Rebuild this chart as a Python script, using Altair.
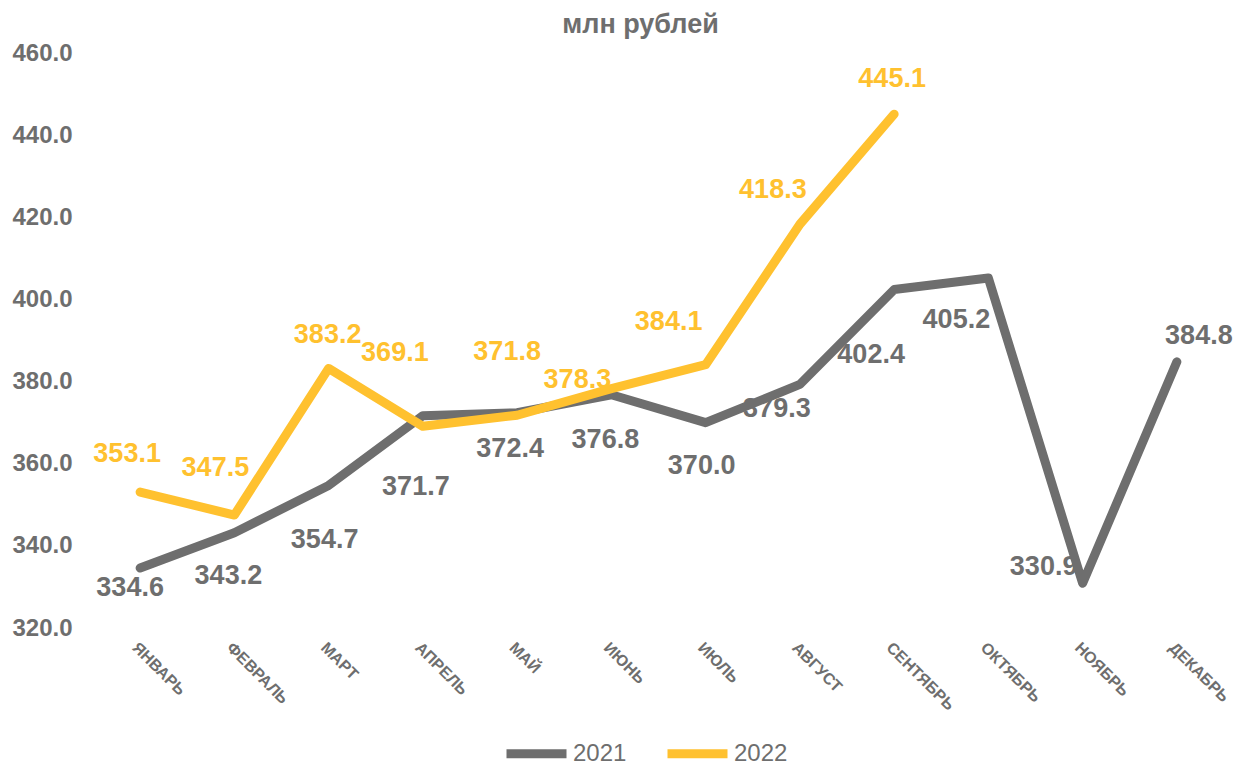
import altair as alt
import pandas as pd

months = ["ЯНВАРЬ", "ФЕВРАЛЬ", "МАРТ", "АПРЕЛЬ", "МАЙ", "ИЮНЬ",
          "ИЮЛЬ", "АВГУСТ", "СЕНТЯБРЬ", "ОКТЯБРЬ", "НОЯБРЬ", "ДЕКАБРЬ"]
values_2021 = [334.6, 343.2, 354.7, 371.7, 372.4, 376.8, 370.0, 379.3, 402.4, 405.2, 330.9, 384.8]
values_2022 = [353.1, 347.5, 383.2, 369.1, 371.8, 378.3, 384.1, 418.3, 445.1]
series_names = ["2021", "2022"]

GRAY = "#6E6E6E"
YELLOW = "#FFC12F"
FONT = "Liberation Sans"

rows = []
for m, v in zip(months, values_2021):
    rows.append({"month": m, "value": v, "series": "2021"})
for m, v in zip(months, values_2022):
    rows.append({"month": m, "value": v, "series": "2022"})
df = pd.DataFrame(rows)

x_enc = alt.X("month:N", sort=months, scale=alt.Scale(paddingInner=0, paddingOuter=0),
              axis=alt.Axis(title=None, labelAngle=45, labelFontSize=16, labelFontWeight="bold",
                            labelColor=GRAY, labelFont=FONT, ticks=False, domain=False,
                            labelPadding=11, labelAlign="left", labelBaseline="top"))
y_enc = alt.Y("value:Q", scale=alt.Scale(domain=[320, 460], nice=False, zero=False),
              axis=alt.Axis(title=None, values=list(range(320, 461, 20)), format=".1f",
                            labelFontSize=24, labelFontWeight="bold", labelColor=GRAY,
                            labelFont=FONT, ticks=False, domain=False, grid=False,
                            labelPadding=21))

base = alt.Chart(df)

lines = base.mark_line(strokeWidth=9, strokeCap="round", strokeJoin="round").encode(
    x=x_enc, y=y_enc,
    color=alt.Color("series:N", scale=alt.Scale(domain=series_names, range=[GRAY, YELLOW]),
                    legend=alt.Legend(title=None, orient="none", direction="horizontal",
                                      legendX=409, legendY=666, symbolType="stroke",
                                      symbolSize=3600, symbolStrokeWidth=9,
                                      labelFontSize=24, labelColor=GRAY, labelFont=FONT,
                                      labelOffset=2, columnPadding=22)),
    order=alt.Order("series:N"),
)

# label offsets (pixels) per point: style only
off_2021 = [(-10, 20), (-6, 43), (-4, 55), (-7, 71), (-7, 36), (-6, 45), (-4, 43),
            (-23, 25), (-23, 65), (-32, 42), (-39, -16), (22, -26)]
off_2022 = [(-13, -38), (-19, -47), (-1, -33), (-28, -73), (-10, -63), (-34, -9),
            (-37, -43), (-27, -34), (-2, -35)]

text_layers = []
for s, offs, col in (("2021", off_2021, GRAY), ("2022", off_2022, YELLOW)):
    for m, (dx, dy) in zip(months, offs):
        t = base.transform_filter(
            (alt.datum.series == s) & (alt.datum.month == m)
        ).mark_text(dx=dx, dy=dy, fontSize=27, fontWeight="bold", font=FONT, color=col).encode(
            x=alt.X("month:N", sort=months), y=alt.Y("value:Q"),
            text=alt.Text("value:Q", format=".1f"),
        )
        text_layers.append(t)

chart = alt.layer(lines, *text_layers).properties(
    width=1131, height=575,
    title=alt.TitleParams("млн рублей", fontSize=27, fontWeight="bold", color=GRAY,
                          font=FONT, anchor="middle", dx=-18, offset=2),
    autosize=alt.AutoSizeParams(type="none"),
    padding={"left": 85, "top": 45, "right": 11, "bottom": 140},
).configure_view(stroke=None)

chart.save("out.html", embed_options={"renderer": "svg", "actions": False})
